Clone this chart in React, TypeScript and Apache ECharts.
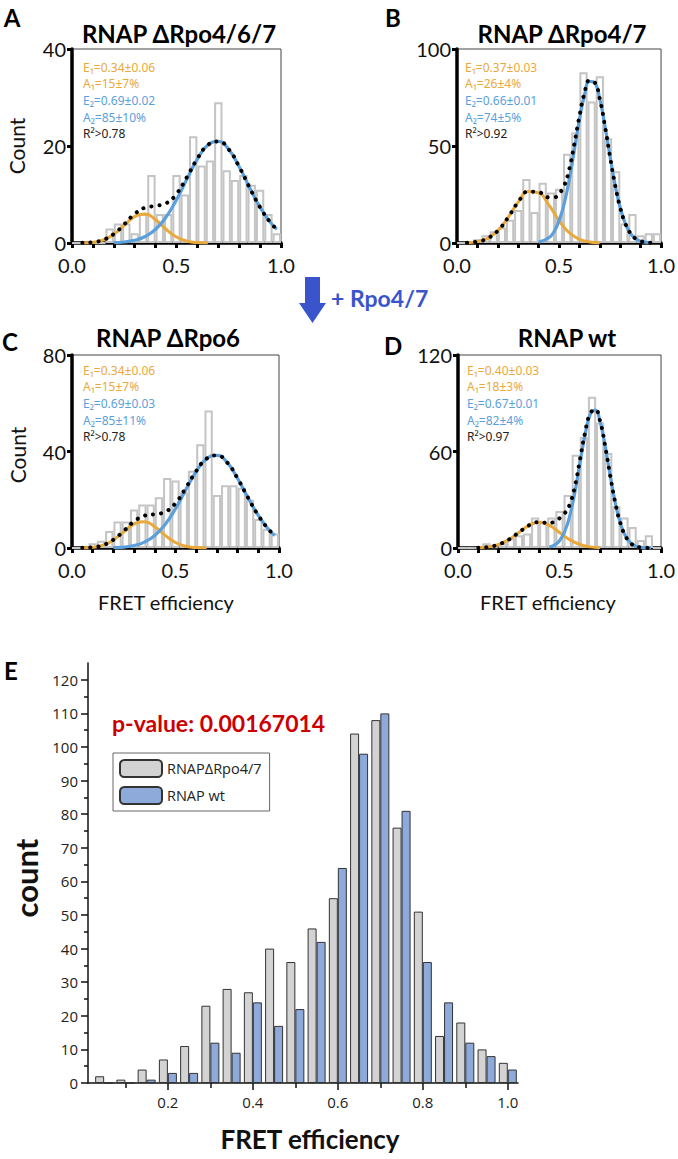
import React, { useEffect, useRef } from 'react';
import * as echarts from 'echarts';

// ---------- Panels A–D: histogram bins (bin centres, width 0.04) ----------
const binCenters = [0.02, 0.06, 0.10, 0.14, 0.18, 0.22, 0.26, 0.30, 0.34, 0.38, 0.42, 0.46, 0.50, 0.54, 0.58, 0.62, 0.66, 0.70, 0.74, 0.78, 0.82, 0.86, 0.90, 0.94, 0.98];
const countsA = [0, 0, 0, 0, 3, 4, 4, 2, 6, 14, 6, 6, 14, 10, 22, 16, 17, 29, 15, 13, 14, 12, 11, 6, 2];
const countsB = [0, 1, 2, 4, 6, 8, 12, 17, 33, 16, 31, 26, 28, 46, 57, 88, 73, 86, 54, 37, 10, 15, 4, 5, 5];
const countsC = [0, 0, 2, 3, 7, 11, 11, 16, 18, 18, 21, 29, 28, 23, 32, 43, 57, 22, 26, 26, 25, 20, 12, 8, 6];
const countsD = [0, 0, 0, 3, 1, 3, 6, 8, 9, 19, 16, 19, 23, 33, 58, 69, 94, 78, 59, 26, 19, 13, 5, 8, 0];

// ---------- fitted curves ----------
const xOrangeAC = [0.05, 0.10, 0.15, 0.20, 0.25, 0.30, 0.35, 0.40, 0.45, 0.50, 0.55, 0.60, 0.65];
const xBlueAC = [0.20, 0.25, 0.30, 0.35, 0.40, 0.45, 0.50, 0.55, 0.60, 0.65, 0.70, 0.75, 0.80, 0.85, 0.90, 0.95, 0.98];
const xTotalAC = [0.05, 0.10, 0.15, 0.20, 0.25, 0.30, 0.35, 0.40, 0.45, 0.50, 0.55, 0.60, 0.65, 0.70, 0.75, 0.80, 0.85, 0.90, 0.95, 0.98];

const orangeA = [0.03, 0.17, 0.65, 1.79, 3.64, 5.44, 5.96, 4.81, 2.84, 1.24, 0.39, 0.09, 0.02];
const blueA = [0.07, 0.21, 0.56, 1.34, 2.84, 5.33, 8.9, 13.2, 17.3, 20.2, 20.95, 19.3, 15.7, 11.4, 7.35, 4.2, 2.84];
const totalA = [0.03, 0.17, 0.66, 1.86, 3.85, 6.0, 7.3, 7.65, 8.17, 10.14, 13.6, 17.4, 20.2, 20.95, 19.3, 15.7, 11.4, 7.35, 4.2, 2.84];

const orangeC = [0.06, 0.31, 1.19, 3.28, 6.67, 9.97, 10.93, 8.82, 5.21, 2.27, 0.72, 0.17, 0.03];
const blueC = [0.13, 0.39, 1.03, 2.46, 5.21, 9.77, 16.3, 24.2, 31.7, 37.0, 38.4, 35.4, 28.8, 20.9, 13.5, 7.7, 5.2];
const totalC = [0.06, 0.31, 1.19, 3.41, 7.06, 11.0, 13.39, 14.03, 14.98, 18.57, 24.92, 31.87, 37.03, 38.4, 35.4, 28.8, 20.9, 13.5, 7.7, 5.2];

const xOrangeB = [0.05, 0.10, 0.15, 0.20, 0.25, 0.30, 0.35, 0.40, 0.45, 0.50, 0.55, 0.60, 0.65, 0.70];
const orangeB = [0.16, 0.71, 2.4, 6.36, 13.1, 21.1, 26.5, 25.8, 19.6, 11.6, 5.35, 1.92, 0.54, 0.12];
const xBlueB = [0.40, 0.45, 0.475, 0.50, 0.525, 0.55, 0.575, 0.60, 0.625, 0.65, 0.675, 0.70, 0.725, 0.75, 0.775, 0.80, 0.825, 0.85, 0.875, 0.90, 0.95];
const blueB = [0.43, 2.68, 5.8, 11.4, 20.2, 32.6, 47.8, 63.4, 76.3, 83.3, 82.5, 74.1, 60.4, 44.6, 29.9, 18.2, 10.0, 5.0, 2.27, 0.93, 0.12];
const xTotalB = [0.05, 0.10, 0.15, 0.20, 0.25, 0.30, 0.35, 0.40, 0.45, 0.475, 0.50, 0.525, 0.55, 0.575, 0.60, 0.625, 0.65, 0.675, 0.70, 0.725, 0.75, 0.775, 0.80, 0.825, 0.85, 0.875, 0.90, 0.95];
const totalB = [0.16, 0.71, 2.4, 6.36, 13.1, 21.1, 26.5, 26.2, 23.5, 23.5, 25.5, 29.5, 38.0, 51.1, 65.3, 77.4, 83.8, 82.8, 74.2, 60.4, 44.6, 29.9, 18.2, 10.0, 5.0, 2.27, 0.93, 0.12];

const xOrangeD = [0.10, 0.15, 0.20, 0.25, 0.30, 0.35, 0.40, 0.45, 0.50, 0.55, 0.60, 0.65, 0.70];
const orangeD = [0.18, 0.7, 2.17, 5.2, 9.7, 14.1, 16, 14.1, 9.7, 5.2, 2.17, 0.7, 0.18];
const xBlueD = [0.45, 0.475, 0.50, 0.525, 0.55, 0.575, 0.60, 0.625, 0.65, 0.675, 0.70, 0.725, 0.75, 0.775, 0.80, 0.825, 0.85, 0.875, 0.90, 0.95];
const blueD = [0.61, 1.77, 4.5, 10.1, 19.8, 34.2, 52.2, 69.9, 82.6, 85.8, 78.5, 63.2, 44.8, 27.9, 15.3, 7.4, 3.16, 1.18, 0.39, 0.03];
const xTotalD = [0.10, 0.15, 0.20, 0.25, 0.30, 0.35, 0.40, 0.45, 0.475, 0.50, 0.525, 0.55, 0.575, 0.60, 0.625, 0.65, 0.675, 0.70, 0.725, 0.75, 0.775, 0.80, 0.825, 0.85, 0.875, 0.90, 0.95];
const totalD = [0.18, 0.7, 2.17, 5.2, 9.7, 14.1, 16.05, 15.5, 16.5, 18.5, 21.5, 27, 38, 54.4, 71.2, 83.3, 86.1, 78.7, 63.2, 44.8, 27.9, 15.3, 7.4, 3.16, 1.18, 0.39, 0.03];

// ---------- fit annotations ----------
const notesA = ['E\u2081=0.34\u00b10.06', 'A\u2081=15\u00b17%', 'E\u2082=0.69\u00b10.02', 'A\u2082=85\u00b110%', 'R\u00b2>0.78'];
const notesB = ['E\u2081=0.37\u00b10.03', 'A\u2081=26\u00b14%', 'E\u2082=0.66\u00b10.01', 'A\u2082=74\u00b15%', 'R\u00b2>0.92'];
const notesC = ['E\u2081=0.34\u00b10.06', 'A\u2081=15\u00b17%', 'E\u2082=0.69\u00b10.03', 'A\u2082=85\u00b111%', 'R\u00b2>0.78'];
const notesD = ['E\u2081=0.40\u00b10.03', 'A\u2081=18\u00b13%', 'E\u2082=0.67\u00b10.01', 'A\u2082=82\u00b14%', 'R\u00b2>0.97'];

// ---------- Panel E ----------
const eCenters = [0.05, 0.10, 0.15, 0.20, 0.25, 0.30, 0.35, 0.40, 0.45, 0.50, 0.55, 0.60, 0.65, 0.70, 0.75, 0.80, 0.85, 0.90, 0.95, 1.00];
const eDeltaRpo47 = [2, 1, 4, 7, 11, 23, 28, 27, 40, 36, 46, 55, 104, 108, 76, 51, 14, 18, 10, 6];
const eWt = [0, 0, 1, 3, 3, 12, 9, 24, 17, 22, 42, 64, 98, 110, 81, 36, 24, 12, 8, 4];
const eYLabels = [0, 10, 20, 30, 40, 50, 60, 70, 80, 90, 100, 110, 120];
const eYMinor = [5, 15, 25, 35, 45, 55, 65, 75, 85, 95, 105, 115];
const eXLabels = [0.2, 0.4, 0.6, 0.8, 1.0];
const eXMinor = [0.1, 0.3, 0.5, 0.7, 0.9];

const FONT = "Lato, 'Open Sans', 'Noto Sans', sans-serif";
const NOTE_FONT = "'Noto Sans', 'DejaVu Sans', sans-serif";
const E_FONT = "'Open Sans', 'Noto Sans', sans-serif";
const ORANGE = '#EAA93B';
const BLUE = '#5B9FDC';

const pair = (xs: number[], ys: number[]) => xs.map((x, i) => [x, ys[i]]);

const panels = [
  { letter: 'A', title: 'RNAP \u0394Rpo4/6/7', grid: { left: 72, top: 49, width: 209, height: 194 }, ymax: 40, yint: 20, counts: countsA,
    orange: pair(xOrangeAC, orangeA), blue: pair(xBlueAC, blueA), total: pair(xTotalAC, totalA), notes: notesA,
    letterPos: [12, 17], titlePos: [179, 33], notePos: [83, 67], countPos: [16, 146] },
  { letter: 'B', title: 'RNAP \u0394Rpo4/7', grid: { left: 457, top: 49, width: 206, height: 194 }, ymax: 100, yint: 50, counts: countsB,
    orange: pair(xOrangeB, orangeB), blue: pair(xBlueB, blueB), total: pair(xTotalB, totalB), notes: notesB,
    letterPos: [393, 17], titlePos: [562, 33], notePos: [465, 67], countPos: null },
  { letter: 'C', title: 'RNAP \u0394Rpo6', grid: { left: 72, top: 355, width: 207, height: 193 }, ymax: 80, yint: 40, counts: countsC,
    orange: pair(xOrangeAC, orangeC), blue: pair(xBlueAC, blueC), total: pair(xTotalAC, totalC), notes: notesC,
    letterPos: [10, 341], titlePos: [168, 337], notePos: [83, 370], countPos: [17, 455] },
  { letter: 'D', title: 'RNAP wt', grid: { left: 458, top: 355, width: 205, height: 193 }, ymax: 120, yint: 60, counts: countsD,
    orange: pair(xOrangeD, orangeD), blue: pair(xBlueD, blueD), total: pair(xTotalD, totalD), notes: notesD,
    letterPos: [393, 345], titlePos: [567, 337], notePos: [467, 370], countPos: null },
];

function buildOption() {
  const grids: any[] = [];
  const xAxes: any[] = [];
  const yAxes: any[] = [];
  const series: any[] = [];
  const graphics: any[] = [];

  panels.forEach((p, i) => {
    grids.push({ ...p.grid, show: true, borderColor: '#444', borderWidth: 1, backgroundColor: 'transparent' });
    xAxes.push({
      type: 'value', gridIndex: i, min: 0, max: 1, interval: 0.5,
      axisLine: { show: true, onZero: false, lineStyle: { color: '#000', width: 3.5 } },
      axisTick: { show: true, length: 5, lineStyle: { color: '#000', width: 3 } },
      minorTick: { show: true, splitNumber: 5, length: 5, lineStyle: { color: '#000', width: 3 } },
      axisLabel: { fontSize: 20, fontFamily: FONT, color: '#111', margin: 12, formatter: (v: number) => v.toFixed(1) },
      splitLine: { show: false }, minorSplitLine: { show: false },
    });
    yAxes.push({
      type: 'value', gridIndex: i, min: 0, max: p.ymax, interval: p.yint,
      axisLine: { show: true, onZero: false, lineStyle: { color: '#000', width: 3.5 } },
      axisTick: { show: true, length: 5, lineStyle: { color: '#000', width: 3 } },
      axisLabel: { fontSize: 20, fontFamily: FONT, color: '#111', margin: 6 },
      splitLine: { show: false },
    });
    series.push({
      type: 'bar', xAxisIndex: i, yAxisIndex: i, silent: true, z: 2,
      data: binCenters.map((c, k) => [c, p.counts[k]]),
      barWidth: p.grid.width * 0.04,
      itemStyle: { color: 'rgba(255,255,255,0)', borderColor: '#c4c4c4', borderWidth: 2 },
    });
    series.push({ type: 'line', xAxisIndex: i, yAxisIndex: i, data: p.orange, smooth: true, symbol: 'none', silent: true, z: 3,
      lineStyle: { color: ORANGE, width: 3 } });
    series.push({ type: 'line', xAxisIndex: i, yAxisIndex: i, data: p.blue, smooth: true, symbol: 'none', silent: true, z: 4,
      lineStyle: { color: BLUE, width: 3.2 } });
    series.push({ type: 'line', xAxisIndex: i, yAxisIndex: i, data: p.total, smooth: true, symbol: 'none', silent: true, z: 5,
      lineStyle: { color: '#000', width: 4, type: [0.1, 8], cap: 'round' } });

    graphics.push({ type: 'text', x: p.letterPos[0], y: p.letterPos[1],
      style: { text: p.letter, fontFamily: FONT, fontWeight: 'bold', fontSize: 24, fill: '#000', align: 'center', verticalAlign: 'middle' } });
    graphics.push({ type: 'text', x: p.titlePos[0], y: p.titlePos[1],
      style: { text: p.title, fontFamily: FONT, fontWeight: 'bold', fontSize: 24, fill: '#000', align: 'center', verticalAlign: 'middle' } });
    const colors = [ORANGE, ORANGE, BLUE, BLUE, '#222'];
    p.notes.forEach((t, k) => {
      graphics.push({ type: 'text', x: p.notePos[0], y: p.notePos[1] + k * 16.7,
        style: { text: t, fontFamily: NOTE_FONT, fontSize: 12, fill: colors[k], align: 'left', verticalAlign: 'middle' } });
    });
    if (p.countPos) {
      graphics.push({ type: 'text', x: p.countPos[0], y: p.countPos[1], rotation: Math.PI / 2,
        style: { text: 'Count', fontFamily: FONT, fontSize: 21, fill: '#111', align: 'center', verticalAlign: 'middle' } });
    }
  });

  // FRET efficiency labels under C and D
  [[166, 602], [548, 602]].forEach(([x, y]) => {
    graphics.push({ type: 'text', x, y, style: { text: 'FRET efficiency', fontFamily: FONT, fontSize: 20, fill: '#111', align: 'center', verticalAlign: 'middle' } });
  });

  // arrow + label
  graphics.push({ type: 'polygon', shape: { points: [[305, 277], [320, 277], [320, 303], [326, 303], [312.5, 323], [299, 303], [305, 303]] },
    style: { fill: '#3a55cc' } });
  graphics.push({ type: 'text', x: 331, y: 298,
    style: { text: '+ Rpo4/7', fontFamily: FONT, fontWeight: 'bold', fontSize: 23, fill: '#3a55cc', align: 'left', verticalAlign: 'middle' } });

  // ---------- Panel E ----------
  const eGrid = { left: 88, top: 663, width: 430, height: 420 };
  grids.push({ ...eGrid, show: false });
  const gi = 4;
  const eX = xAxes.length;
  const eMin = 0.012;
  const eMax = 1.024;
  xAxes.push({
    type: 'value', gridIndex: gi, min: eMin, max: eMax, position: 'bottom',
    axisLine: { show: true, onZero: false, lineStyle: { color: '#111', width: 1.5 } },
    axisTick: { show: true, length: 7, customValues: eXLabels, lineStyle: { color: '#111', width: 1.5 } },
    axisLabel: { customValues: eXLabels, fontSize: 15, fontFamily: E_FONT, color: '#222', margin: 11, formatter: (v: number) => v.toFixed(1) },
    splitLine: { show: false },
  });
  xAxes.push({
    type: 'value', gridIndex: gi, min: eMin, max: eMax, position: 'bottom',
    axisLine: { show: false, onZero: false },
    axisTick: { show: true, length: 5, customValues: eXMinor, lineStyle: { color: '#111', width: 1.5 } },
    axisLabel: { show: false }, splitLine: { show: false },
  });
  const eY = yAxes.length;
  yAxes.push({
    type: 'value', gridIndex: gi, min: 0, max: 125, position: 'left',
    axisLine: { show: true, onZero: false, lineStyle: { color: '#111', width: 1.5 } },
    axisTick: { show: true, length: 7, customValues: eYLabels, lineStyle: { color: '#111', width: 1.5 } },
    axisLabel: { customValues: eYLabels, fontSize: 15, fontFamily: E_FONT, color: '#222', margin: 10 },
    splitLine: { show: false },
  });
  yAxes.push({
    type: 'value', gridIndex: gi, min: 0, max: 125, position: 'left',
    axisLine: { show: false, onZero: false },
    axisTick: { show: true, length: 4, customValues: eYMinor, lineStyle: { color: '#111', width: 1.5 } },
    axisLabel: { show: false }, splitLine: { show: false },
  });
  series.push({
    name: 'RNAP\u0394Rpo4/7', type: 'bar', xAxisIndex: eX, yAxisIndex: eY, silent: true,
    data: eCenters.map((c, k) => [c, eDeltaRpo47[k]]), barWidth: 9, barGap: '0%',
    itemStyle: { color: '#d3d3d3', borderColor: '#333', borderWidth: 1 },
  });
  series.push({
    name: 'RNAP wt', type: 'bar', xAxisIndex: eX, yAxisIndex: eY, silent: true,
    data: eCenters.map((c, k) => [c, eWt[k]]), barWidth: 9, barGap: '0%',
    itemStyle: { color: '#8eaadb', borderColor: '#333', borderWidth: 1 },
  });

  graphics.push({ type: 'text', x: 11, y: 670,
    style: { text: 'E', fontFamily: FONT, fontWeight: 'bold', fontSize: 24, fill: '#000', align: 'center', verticalAlign: 'middle' } });
  graphics.push({ type: 'text', x: 112, y: 723,
    style: { text: 'p-value: 0.00167014', fontFamily: FONT, fontWeight: 'bold', fontSize: 23, fill: '#cc0000', align: 'left', verticalAlign: 'middle' } });
  graphics.push({ type: 'text', x: 26, y: 878, rotation: Math.PI / 2,
    style: { text: 'count', fontFamily: FONT, fontWeight: 'bold', fontSize: 31, fill: '#111', align: 'center', verticalAlign: 'middle' } });
  graphics.push({ type: 'text', x: 310, y: 1139,
    style: { text: 'FRET efficiency', fontFamily: FONT, fontWeight: 'bold', fontSize: 26, fill: '#111', align: 'center', verticalAlign: 'middle' } });

  return {
    animation: false,
    backgroundColor: '#fff',
    grid: grids,
    xAxis: xAxes,
    yAxis: yAxes,
    legend: {
      data: ['RNAP\u0394Rpo4/7', 'RNAP wt'],
      left: 113, top: 753, orient: 'vertical',
      itemWidth: 42, itemHeight: 17, itemGap: 8,
      padding: [6, 8, 6, 6],
      borderColor: '#666', borderWidth: 1,
      selectedMode: false,
      textStyle: { fontSize: 14.5, fontFamily: E_FONT, color: '#222' },
    },
    series,
    graphic: graphics,
  };
}

export default function App() {
  const ref = useRef<HTMLDivElement>(null);
  useEffect(() => {
    document.body.style.margin = '0';
    const chart = echarts.init(ref.current!, null, { renderer: 'svg' });
    chart.setOption(buildOption() as any);
    return () => chart.dispose();
  }, []);
  return <div ref={ref} style={{ width: 678, height: 1159, background: '#fff' }} />;
}
